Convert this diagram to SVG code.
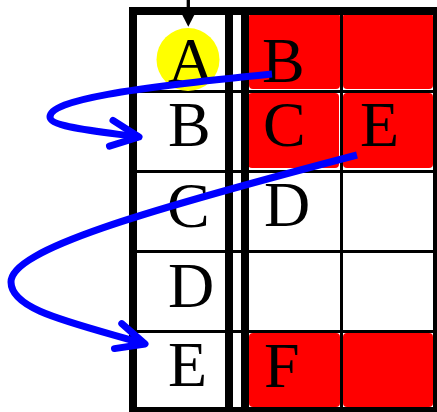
<svg xmlns="http://www.w3.org/2000/svg" width="437" height="412" viewBox="0 0 437 412">
<style>
.cell{fill:#ff0000}
.lbl{font-family:"Liberation Serif","Times New Roman",serif;font-size:64px;fill:#000}
.thick{stroke:#000;stroke-width:8;fill:none}
.thin{stroke:#000;stroke-width:3;fill:none}
.flow{stroke:#0000ff;stroke-width:7;fill:none}
</style>
<defs>
<marker id="barb" markerUnits="userSpaceOnUse" overflow="visible" orient="auto" refX="0" refY="0" markerWidth="40" markerHeight="40">
<path d="M-28,-13 L0,0 L-28,13" fill="none" stroke="#0000ff" stroke-width="7" stroke-linecap="round" stroke-linejoin="round"/>
</marker>
</defs>
<rect width="437" height="412" fill="#fff"/>
<g id="cells">
<rect class="cell" x="249" y="13" width="91" height="76" rx="4"/>
<rect class="cell" x="343" y="13" width="90" height="76" rx="4"/>
<rect class="cell" x="248" y="93" width="91" height="75" rx="4"/>
<rect class="cell" x="343" y="93" width="90" height="75" rx="4"/>
<rect class="cell" x="249" y="333" width="91" height="74" rx="4"/>
<rect class="cell" x="343" y="333" width="90" height="74" rx="4"/>
</g>
<g id="grid">
<line class="thin" x1="133" y1="91.5" x2="437" y2="91.5"/>
<line class="thin" x1="133" y1="171.5" x2="437" y2="171.5"/>
<line class="thin" x1="133" y1="251.5" x2="437" y2="251.5"/>
<line class="thin" x1="133" y1="331.5" x2="437" y2="331.5"/>
<line class="thin" x1="341.5" y1="11" x2="341.5" y2="411"/>
<line class="thick" x1="229" y1="11" x2="229" y2="411"/>
<line class="thick" x1="245" y1="11" x2="245" y2="411"/>
<rect class="thick" x="133" y="11" width="304" height="400"/>
</g>
<g id="start">
<line x1="188.3" y1="0" x2="188.3" y2="12" stroke="#000" stroke-width="3.3"/>
<polygon points="181.8,14 194.8,14 188.3,26.7" fill="#000"/>
<circle cx="188" cy="59.5" r="31.5" fill="#ffff00"/>
</g>
<g id="labels">
<text class="lbl" x="168" y="82">A</text>
<text class="lbl" x="262" y="82">B</text>
<text class="lbl" x="168" y="146">B</text>
<text class="lbl" x="263" y="146">C</text>
<text class="lbl" x="360" y="146">E</text>
<text class="lbl" x="167" y="227">C</text>
<text class="lbl" x="264" y="226">D</text>
<text class="lbl" x="168" y="307">D</text>
<text class="lbl" x="168" y="386">E</text>
<text class="lbl" x="264" y="387">F</text>
</g>
<g id="connectors">
<path class="flow" marker-end="url(#barb)" d="M272,74 C130,88 50,100 50,117 C50,127 95,131 139,137"/>
<path class="flow" marker-end="url(#barb)" d="M357,155 C140,212 11,250 11,282 C11,310 70,322 145,344"/>
</g>
</svg>
